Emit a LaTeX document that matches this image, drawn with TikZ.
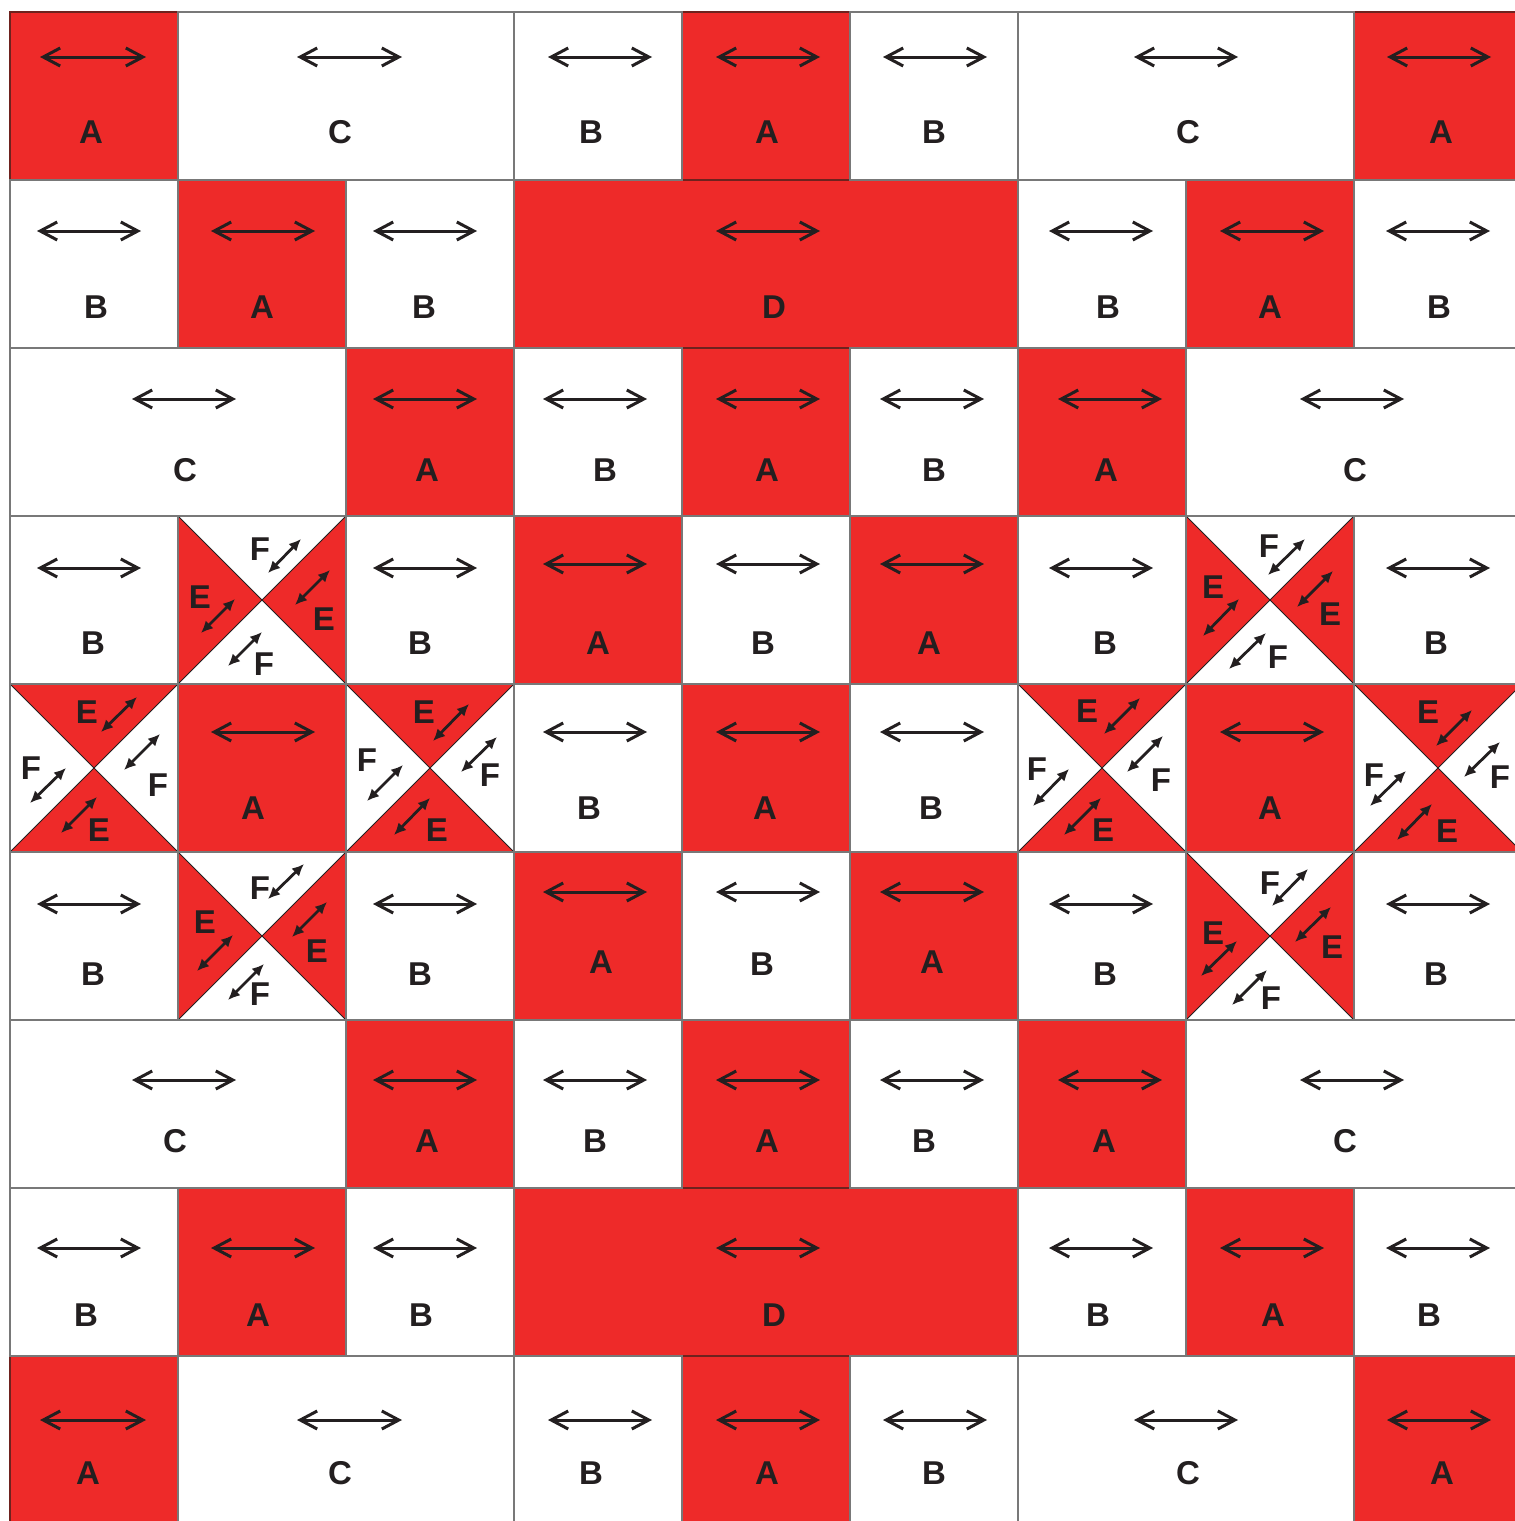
\documentclass[tikz,border=0pt]{standalone}
\usepackage{fontspec}
\setmainfont{Liberation Sans}
\usetikzlibrary{arrows.meta}
\definecolor{qred}{RGB}{238,42,41}
\definecolor{ink}{RGB}{35,31,32}
\definecolor{gridc}{RGB}{120,120,120}
\definecolor{redline}{RGB}{110,34,30}
\begin{document}
\begin{tikzpicture}[x=0.5pt,y=-0.5pt,
  cellw/.style={draw=gridc,line width=0.75pt,fill=white},
  cellr/.style={draw=redline,line width=0.75pt,fill=qred},
  diag/.style={draw=ink,line width=0.5pt},
  tri/.style={fill=qred},
  harrow/.style={draw=ink,line width=1.5pt,{Straight Barb[length=8.5pt,width=9pt]}-{Straight Barb[length=8.5pt,width=9pt]}},
  darrow/.style={draw=ink,line width=1.4pt,{Latex[length=6pt,width=5.5pt]}-{Latex[length=6pt,width=5.5pt]}},
  lab/.style={inner sep=0pt,text=ink,font=\fontsize{16.5}{19}\selectfont\bfseries}]
\useasboundingbox (0,0) rectangle (1515,1521);
\clip (0,0) rectangle (1515,1521);
\fill[white] (0,0) rectangle (1515,1521);
% red cells first
\foreach \c/\r/\s in {0/0/1,4/0/1,8/0/1, 1/1/1,3/1/3,7/1/1, 2/2/1,4/2/1,6/2/1,
  3/3/1,5/3/1, 1/4/1,4/4/1,7/4/1, 3/5/1,5/5/1, 2/6/1,4/6/1,6/6/1,
  1/7/1,3/7/3,7/7/1, 0/8/1,4/8/1,8/8/1}
  \path[cellr] ({10+168*\c},{12+168*\r}) rectangle ({10+168*(\c+\s)},{12+168*(\r+1)});
% white cells
\foreach \c/\r/\s in {1/0/2,3/0/1,5/0/1,6/0/2, 0/1/1,2/1/1,6/1/1,8/1/1,
  0/2/2,3/2/1,5/2/1,7/2/2, 0/3/1,1/3/1,2/3/1,4/3/1,6/3/1,7/3/1,8/3/1,
  0/4/1,2/4/1,3/4/1,5/4/1,6/4/1,8/4/1, 0/5/1,1/5/1,2/5/1,4/5/1,6/5/1,7/5/1,8/5/1,
  0/6/2,3/6/1,5/6/1,7/6/2, 0/7/1,2/7/1,6/7/1,8/7/1, 1/8/2,3/8/1,5/8/1,6/8/2}
  \path[cellw] ({10+168*\c},{12+168*\r}) rectangle ({10+168*(\c+\s)},{12+168*(\r+1)});
% E/F blocks, red triangles left and right
\foreach \c/\r in {1/3,7/3,1/5,7/5}{
  \path[tri] ({10+168*\c},{12+168*\r}) -- ({94+168*\c},{96+168*\r}) -- ({10+168*\c},{180+168*\r}) -- cycle;
  \path[tri] ({178+168*\c},{12+168*\r}) -- ({94+168*\c},{96+168*\r}) -- ({178+168*\c},{180+168*\r}) -- cycle;
}
% E/F blocks, red triangles top and bottom
\foreach \c/\r in {0/4,2/4,6/4,8/4}{
  \path[tri] ({10+168*\c},{12+168*\r}) -- ({94+168*\c},{96+168*\r}) -- ({178+168*\c},{12+168*\r}) -- cycle;
  \path[tri] ({10+168*\c},{180+168*\r}) -- ({94+168*\c},{96+168*\r}) -- ({178+168*\c},{180+168*\r}) -- cycle;
}
\foreach \c/\r in {1/3,7/3,1/5,7/5,0/4,2/4,6/4,8/4}{
  \path[diag] ({10+168*\c},{12+168*\r}) -- ({178+168*\c},{180+168*\r});
  \path[diag] ({178+168*\c},{12+168*\r}) -- ({10+168*\c},{180+168*\r});
  \path[draw=gridc,line width=0.75pt] ({10+168*\c},{12+168*\r}) rectangle ({178+168*\c},{180+168*\r});
}
% horizontal grain arrows
\foreach \xa/\xb/\y in {
  40/146/57, 297/402/57, 548/652/57, 716/820/57, 883/987/57, 1134/1238/57, 1387/1491/57,
  37/141/231, 211/315/231, 373/477/231, 716/820/231, 1049/1153/231, 1220/1324/231, 1386/1490/231,
  132/236/399, 373/477/399, 543/647/399, 716/820/399, 880/984/399, 1058/1162/399, 1300/1404/399,
  37/141/568, 373/477/568, 543/647/564, 716/820/564, 880/984/564, 1049/1153/568, 1386/1490/568,
  211/315/732, 543/647/732, 716/820/732, 880/984/732, 1220/1324/732,
  37/141/904, 373/477/904, 543/647/892, 716/820/892, 880/984/892, 1049/1153/904, 1386/1490/904,
  132/236/1080, 373/477/1080, 543/647/1080, 716/820/1080, 880/984/1080, 1058/1162/1080, 1300/1404/1080,
  37/141/1248, 211/315/1248, 373/477/1248, 716/820/1248, 1049/1153/1248, 1220/1324/1248, 1386/1490/1248,
  40/146/1420, 297/402/1420, 548/652/1420, 716/820/1420, 883/987/1420, 1134/1238/1420, 1387/1491/1420}
  \draw[harrow] (\xa,\y) -- (\xb,\y);
% letters of the plain cells
\foreach \x/\y/\t [count=\i] in {
  91/132/A, 340/132/C, 591/132/B, 767/132/A, 934/132/B, 1188/132/C, 1441/132/A,
  96/307/B, 262/307/A, 424/307/B, 774/307/D, 1108/307/B, 1270/307/A, 1439/307/B,
  185/470/C, 427/470/A, 605/470/B, 767/470/A, 934/470/B, 1106/470/A, 1355/470/C,
  93/643/B, 420/643/B, 598/643/A, 763/643/B, 929/643/A, 1105/643/B, 1436/643/B,
  253/808/A, 589/808/B, 765/808/A, 931/808/B, 1270/808/A,
  93/974/B, 420/974/B, 601/962/A, 762/964/B, 932/962/A, 1105/974/B, 1436/974/B,
  175/1141/C, 427/1141/A, 595/1141/B, 767/1141/A, 924/1141/B, 1104/1141/A, 1345/1141/C,
  86/1315/B, 258/1315/A, 421/1315/B, 774/1315/D, 1098/1315/B, 1273/1315/A, 1429/1315/B,
  88/1473/A, 340/1473/C, 591/1473/B, 767/1473/A, 934/1473/B, 1188/1473/C, 1442/1473/A}
  \node[lab] (L\i) at (\x,\y) {\t};
% diagonal grain arrows in the E/F blocks
\foreach \xa/\ya/\xb/\yb in {
  268/573/301/539, 201/633/235/599, 295/605/330/570, 228/666/262/632,
  1268/575/1305/539, 1203/636/1239/599, 1297/607/1333/571, 1229/669/1266/633,
  268/899/304/864, 197/971/233/935, 292/937/327/902, 228/1000/264/964,
  1272/906/1308/869, 1201/976/1237/941, 1295/942/1331/907, 1232/1005/1267/970,
  101/732/137/697, 30/803/66/768, 124/770/160/734, 61/833/97/797,
  433/741/469/704, 367/801/403/765, 461/772/497/737, 394/835/430/798,
  1104/734/1140/698, 1033/806/1069/769, 1127/772/1163/736, 1064/835/1101/798,
  1436/746/1472/710, 1370/806/1406/771, 1464/777/1500/742, 1397/840/1432/804}
  \draw[darrow] (\xa,\ya) -- (\xb,\yb);
% letters of the E/F blocks
\foreach \x/\y/\t [count=\i] in {
  260/549/F, 200/597/E, 324/619/E, 264/664/F,
  1269/546/F, 1213/587/E, 1330/614/E, 1278/657/F,
  260/888/F, 205/922/E, 317/951/E, 260/994/F,
  1270/883/F, 1213/933/E, 1332/947/E, 1271/998/F,
  87/712/E, 31/768/F, 158/785/F, 99/830/E,
  424/712/E, 367/760/F, 490/775/F, 437/830/E,
  1087/711/E, 1037/769/F, 1161/780/F, 1103/830/E,
  1428/712/E, 1374/775/F, 1500/777/F, 1447/831/E}
  \node[lab] (T\i) at (\x,\y) {\t};
\end{tikzpicture}
\end{document}
